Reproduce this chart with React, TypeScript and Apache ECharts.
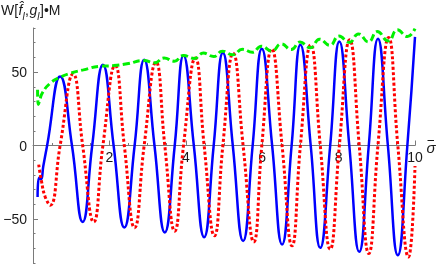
import React, { useEffect, useRef } from "react";
import * as echarts from "echarts";

const xMajorTicks = [2, 4, 6, 8, 10];
const yMajorTicks = [-50, 0, 50];

const blueCurve: number[][] = [
  [0.12, -35], [0.16, -22], [0.21, -23], [0.27, -14], [0.37, 0], [0.71, 47], [1.02, 0], [1.3, -52],
  [1.55, 0], [1.83, 55], [2.11, 0], [2.39, -55.8], [2.66, 0], [2.91, 58.3], [3.18, 0], [3.45, -59.2],
  [3.71, 0], [3.94, 61.3], [4.21, 0], [4.48, -62.4], [4.73, 0], [4.97, 63.2], [5.23, 0], [5.5, -65],
  [5.75, 0], [5.99, 65.8], [6.26, 0], [6.52, -67.4], [6.77, 0], [7.0, 68.6], [7.27, 0], [7.52, -69.7],
  [7.78, 0], [8.02, 70.8], [8.28, 0], [8.54, -72.4], [8.79, 0], [9.03, 72.6], [9.29, 0], [9.55, -74.7],
  [9.8, 0], [10.0, 74],
];

const redCurve: number[][] = [
  [0.15, -13], [0.22, -24], [0.32, -35], [0.45, -40.6], [0.71, 0], [1.05, 48.6], [1.3, 0], [1.59, -52],
  [1.83, 0], [2.15, 54.4], [2.39, 0], [2.66, -56], [2.91, 0], [3.22, 56.7], [3.45, 0], [3.71, -58.3],
  [3.94, 0], [4.25, 59.5], [4.48, 0], [4.75, -61.5], [4.97, 0], [5.24, 62.9], [5.5, 0], [5.78, -65.6],
  [5.99, 0], [6.25, 65.8], [6.52, 0], [6.78, -68.3], [7.0, 0], [7.27, 68.6], [7.52, 0], [7.78, -70.6],
  [8.02, 0], [8.29, 72], [8.54, 0], [8.79, -73.5], [9.03, 0], [9.31, 73.5], [9.55, 0], [9.83, -75.9],
  [10.0, -14],
];

const greenCurve: number[][] = [
  [0.12, 38], [0.14, 28], [0.18, 31], [0.24, 35.6], [0.45, 42.4], [0.71, 46.5], [0.98, 49.2], [1.32, 51.5],
  [1.76, 54], [2.11, 54.4], [2.46, 55.6], [2.9, 57.8], [3.18, 56.3], [3.43, 59.5], [3.7, 57.4], [3.94, 61.3],
  [4.22, 59.3], [4.46, 62.9], [4.73, 60.6], [4.96, 64.2], [5.23, 61.8], [5.48, 65.5], [5.74, 63.5], [5.98, 67.6],
  [6.25, 64.3], [6.5, 69.2], [6.76, 65.3], [6.99, 70.4], [7.26, 66.5], [7.5, 72.4], [7.77, 68.2], [8.01, 74.5],
  [8.28, 70.2], [8.52, 76], [8.78, 70.5], [9.01, 77.6], [9.3, 71.2], [9.54, 78.8], [9.8, 74.2], [10.0, 79.6],
];

export default function App() {
  const ref = useRef<HTMLDivElement>(null);
  useEffect(() => {
    const chart = echarts.init(ref.current as HTMLDivElement, null, { renderer: "svg" });
    const axisColor = "#7a7a7a";
    const labelColor = "#1a1a1a";
    const fam = '"Liberation Sans", Arial, sans-serif';
    const labelFont = { fontFamily: fam, fontSize: 14, color: labelColor };
    const plotBox = { left: 33, right: 21, top: 28, bottom: 2, outerBoundsMode: "none", containLabel: false };
    const zeroBox = { left: 33, right: 21, top: 28, bottom: 119.5, outerBoundsMode: "none", containLabel: false };
    const txt = (text: string, x: number, y: number, size: number, italic = false) => ({
      type: "text",
      x,
      y,
      style: {
        text,
        fontFamily: fam,
        fontSize: size,
        fontStyle: italic ? "italic" : "normal",
        fill: labelColor,
        verticalAlign: "middle",
        align: "left",
      },
    });
    chart.setOption({
      animation: false,
      grid: [{ ...plotBox }, { ...plotBox }, { ...zeroBox }],
      xAxis: [
        { type: "value", gridIndex: 0, min: 0, max: 10, show: false },
        { type: "value", gridIndex: 1, min: 0, max: 10, show: false },
        {
          type: "value",
          gridIndex: 2,
          min: 0,
          max: 10,
          interval: 2,
          position: "bottom",
          axisLine: { show: true, onZero: false, lineStyle: { color: axisColor, width: 1 } },
          axisTick: { inside: true, length: 5, lineStyle: { color: axisColor } },
          minorTick: { show: true, splitNumber: 4, length: 2.5, lineStyle: { color: axisColor } },
          axisLabel: {
            ...labelFont,
            margin: 4,
            formatter: (v: number) => (xMajorTicks.includes(v) ? String(v) : ""),
          },
          splitLine: { show: false },
          minorSplitLine: { show: false },
        },
      ],
      yAxis: [
        {
          type: "value",
          gridIndex: 0,
          min: -80,
          max: 80,
          interval: 10,
          position: "left",
          axisLine: { show: true, onZero: false, lineStyle: { color: axisColor, width: 1 } },
          axisTick: { inside: true, length: 2.5, lineStyle: { color: axisColor } },
          axisLabel: { show: false },
          splitLine: { show: false },
        },
        {
          type: "value",
          gridIndex: 1,
          min: -80,
          max: 80,
          position: "left",
          axisLine: { show: false, onZero: false },
          axisTick: { show: true, inside: true, length: 5, customValues: yMajorTicks, lineStyle: { color: axisColor } },
          axisLabel: {
            ...labelFont,
            margin: 6,
            customValues: yMajorTicks,
            formatter: (v: number) => (v < 0 ? "\u2212" + Math.abs(v) : String(v)),
          },
          splitLine: { show: false },
        },
        { type: "value", gridIndex: 2, min: 0, max: 80, show: false },
      ],
      series: [
        {
          type: "line",
          data: blueCurve,
          showSymbol: false,
          smooth: 0.5,
          lineStyle: { color: "#0000ff", width: 2.5 },
          xAxisIndex: 0,
          yAxisIndex: 0,
        },
        {
          type: "line",
          data: redCurve,
          showSymbol: false,
          smooth: 0.5,
          lineStyle: { color: "#ff0000", width: 3, type: [3, 2.3], cap: "butt" },
          xAxisIndex: 0,
          yAxisIndex: 0,
        },
        {
          type: "line",
          data: greenCurve,
          showSymbol: false,
          smooth: 0.5,
          lineStyle: { color: "#00f000", width: 3, type: [7, 3.5], cap: "butt" },
          xAxisIndex: 0,
          yAxisIndex: 0,
        },
      ],
      graphic: [
        txt("W[", 1, 9.5, 14),
        txt("f\u0302", 18.5, 9.5, 14, true),
        txt("l", 22.5, 16, 10, true),
        txt(",", 25, 9.5, 14),
        txt("g", 29.5, 9.5, 14, true),
        txt("l", 37.3, 16, 10, true),
        txt("]\u2022M", 40, 9.5, 14),
        txt("\u03c3", 426.5, 147, 15, true),
        {
          type: "line",
          shape: { x1: 427.5, y1: 140.5, x2: 434, y2: 140.5 },
          style: { stroke: labelColor, lineWidth: 1 },
        },
      ],
    });
    return () => chart.dispose();
  }, []);
  return (
    <div
      ref={ref}
      style={{ position: "fixed", left: 0, top: 0, width: 436, height: 265 }}
    />
  );
}
